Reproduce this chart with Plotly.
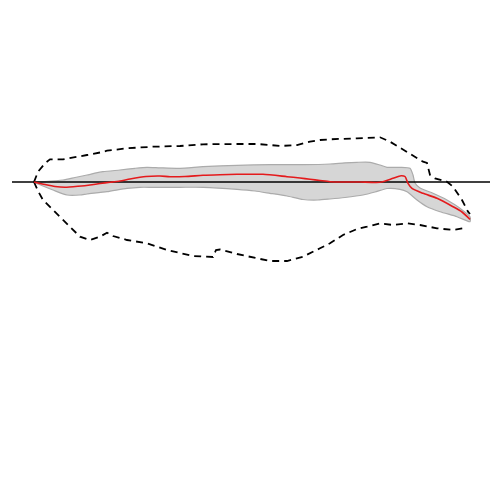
import plotly.graph_objects as go

# values (x position, effect relative to the zero line)
fit_x = [34, 45, 55, 65, 78, 90, 100, 110, 120, 130, 146, 160, 170, 185, 203, 220, 237, 263, 287, 300,
         310, 320, 330, 345, 360, 380, 393, 401, 405, 408, 412, 423, 437, 453, 462, 470]
fit_y = [0, -2.5, -4.5, -5.3, -4.3, -3, -1.5, -0.3, 1, 3, 5.5, 6, 5.3, 5.5, 6.7, 7.3, 7.7, 7.7, 5.3, 4,
         2.7, 1.5, 0.3, 0, 0, -0.3, 3.7, 6.3, 5.5, -1.3, -6.3, -11.3, -16.3, -24.7, -30, -37.3]

ci_upper_x = [34, 45, 63, 75, 87, 103, 120, 135, 147, 160, 180, 203, 237, 270, 303, 330, 345, 357, 370, 380,
              387, 400, 410, 413, 415, 420, 433, 447, 460, 470]
ci_upper_y = [0, 0.5, 2, 4.5, 7, 10.3, 12, 13.7, 14.7, 14.2, 13.7, 15.3, 16.7, 17.3, 17.3, 18, 19.2, 19.7, 19.7, 17,
              14.7, 14.7, 13.7, 7, -1, -6, -11.3, -18, -26.3, -34.7]
ci_lower_x = [34, 43, 53, 67, 80, 87, 107, 127, 140, 153, 180, 203, 237, 255, 270, 287, 303, 318, 330, 345,
              363, 375, 387, 400, 407, 417, 427, 440, 457, 470]
ci_lower_y = [0, -4, -8, -13, -13, -12, -9.7, -6.3, -5.3, -5.3, -5.3, -5.3, -7.3, -9, -11.3, -14, -17.5, -18, -17, -15.5,
              -13, -10, -6.5, -7.3, -9.7, -18, -24.7, -29.7, -34.7, -39.7]

env_upper_x = [34, 38, 45, 50, 63, 75, 87, 100, 107, 127, 153, 180, 203, 237, 257, 270, 280, 297, 310, 320,
               330, 357, 380, 390, 410, 423, 427, 430, 435, 447, 453, 462, 468, 470]
env_upper_y = [0, 10.3, 18.7, 22.7, 22.7, 24.5, 27, 29.5, 31.3, 33.7, 35.3, 36, 37.7, 38, 38, 37, 36, 37, 40.3, 42,
               42.7, 43.7, 44.7, 40.3, 28.7, 20.3, 19, 7, 3.7, 0.3, -4.7, -18, -29.7, -32]
env_lower_x = [34, 38, 43, 50, 57, 63, 70, 80, 90, 100, 107, 113, 127, 147, 167, 180, 193, 213, 216, 220,
               237, 257, 270, 287, 303, 320, 330, 343, 357, 367, 380, 393, 407, 420, 437, 453, 467]
env_lower_y = [0, -9, -18, -25, -31.3, -38, -44.7, -54.7, -58, -54.7, -50.7, -54, -58, -61.3, -68, -71.3, -74, -75, -68, -67.5,
               -72, -76.3, -79, -79, -74.7, -66.3, -61.3, -53, -47, -44.7, -41.3, -43, -41.3, -43, -46.3, -48, -45.7]

baseline_x = [12, 490]
baseline_y = [0, 0]

fig = go.Figure()

# confidence band
fig.add_trace(go.Scatter(
    x=ci_upper_x + ci_lower_x[::-1],
    y=ci_upper_y + ci_lower_y[::-1],
    fill='toself', fillcolor='#d6d6d6',
    line=dict(color='#ababab', width=1.2, shape='spline', smoothing=0.6),
    mode='lines', hoverinfo='skip'
))

# envelope
fig.add_trace(go.Scatter(x=env_upper_x, y=env_upper_y, mode='lines',
                         line=dict(color='black', width=1.8, dash='7px,5px')))
fig.add_trace(go.Scatter(x=env_lower_x, y=env_lower_y, mode='lines',
                         line=dict(color='black', width=1.8, dash='7px,5px')))

# zero line
fig.add_trace(go.Scatter(x=baseline_x, y=baseline_y, mode='lines',
                         line=dict(color='black', width=1.5)))

# fitted curve
fig.add_trace(go.Scatter(x=fit_x, y=fit_y, mode='lines',
                         line=dict(color='#e41a1c', width=1.6, shape='spline', smoothing=0.6)))

# the page body adds an 8px offset, so the ranges are shifted to compensate
fig.update_layout(
    width=500, height=500,
    margin=dict(l=0, r=0, t=0, b=0),
    paper_bgcolor='white', plot_bgcolor='white',
    showlegend=False,
    xaxis=dict(range=[8, 508], visible=False),
    yaxis=dict(range=[-326, 174], visible=False),
)

fig.write_html("out.html")
